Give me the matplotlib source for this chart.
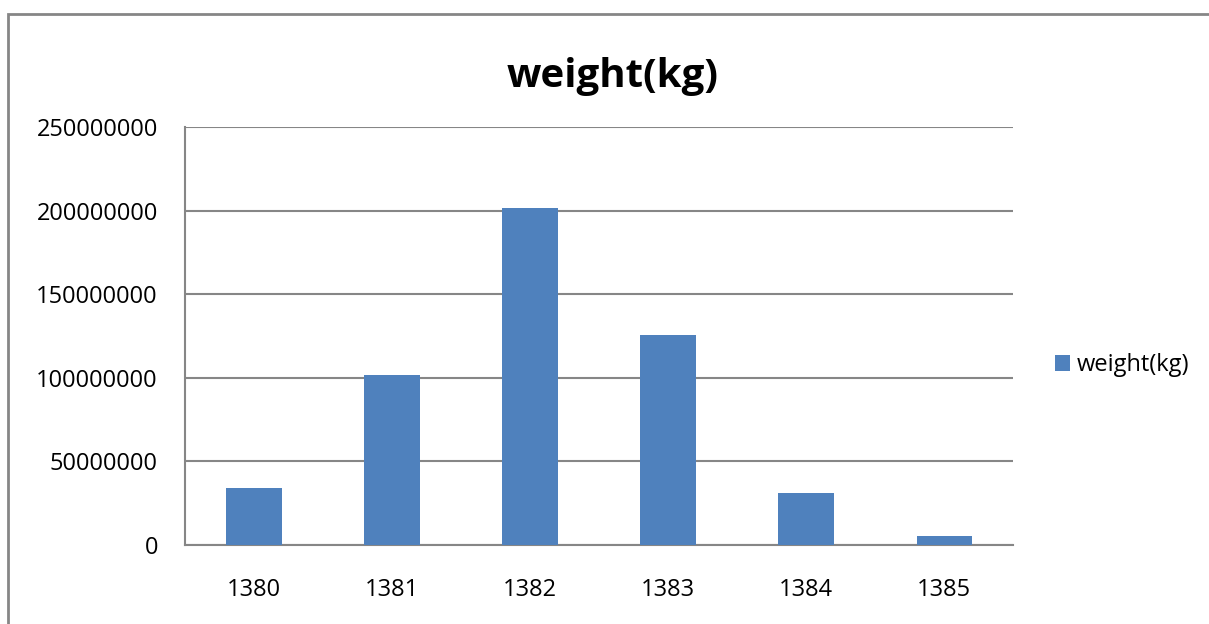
import matplotlib.pyplot as plt
from matplotlib.patches import Rectangle

years = ['1380', '1381', '1382', '1383', '1384', '1385']
weight = [34000000, 101400000, 201400000, 125500000, 30900000, 5200000]
yticks = [0, 50000000, 100000000, 150000000, 200000000, 250000000]

plt.rcParams['font.family'] = ['Open Sans', 'DejaVu Sans']

fig = plt.figure(figsize=(12.09, 6.24), dpi=100)
ax = fig.add_axes([0.153, 0.1266, 0.685, 0.67])

# outer chart frame (cut at right and bottom)
fig.patches.append(Rectangle((8 / 1209, -0.1), 1.2, 1 - 14 / 624 + 0.1,
                             transform=fig.transFigure, fill=False,
                             edgecolor='#868686', linewidth=2))

ax.bar(years, weight, width=0.4, color='#4F81BD', label='weight(kg)', zorder=3)

ax.set_ylim(0, 250000000)
ax.set_xlim(-0.5, 5.5)
ax.set_yticks(yticks)
ax.set_yticklabels([str(v) for v in yticks])
ax.yaxis.grid(True, color='#868686', linewidth=1.5)
ax.set_axisbelow(True)

for s in ['top', 'right']:
  ax.spines[s].set_visible(False)
for s in ['left', 'bottom']:
  ax.spines[s].set_color('#868686')
  ax.spines[s].set_linewidth(1.5)

ax.tick_params(axis='y', length=0, labelsize=17, pad=19.5)
ax.tick_params(axis='x', length=0, labelsize=17, pad=23.5)

fig.text(0.5064, 1 - 87 / 624, 'weight(kg)', ha='center', va='baseline',
         fontsize=29, fontweight='bold')

ax.legend(loc='center left', bbox_to_anchor=(1.0245, 0.43), frameon=False,
          fontsize=17, handlelength=0.64, handleheight=0.64, handletextpad=0.3)

fig.savefig('out.png', dpi=100)
